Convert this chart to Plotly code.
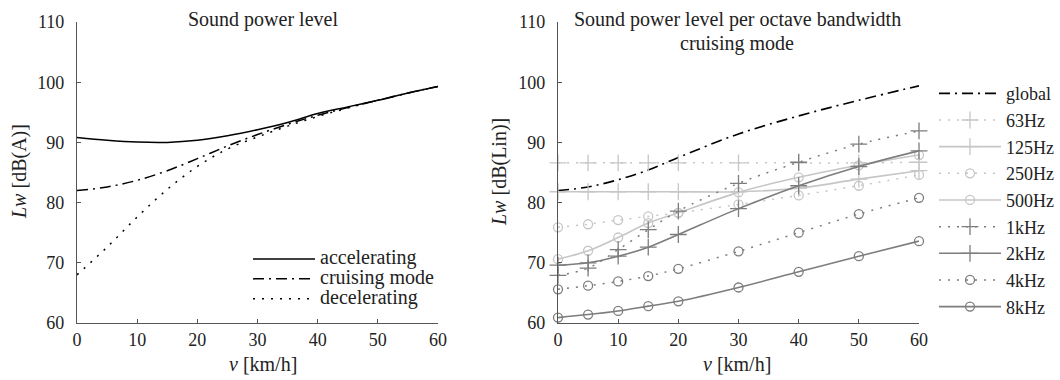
import plotly.graph_objects as go

# ---------------- data ----------------
speed_left = [0, 5, 10, 15, 20, 25, 30, 35, 40, 45, 50, 55, 60]
accelerating = [90.8, 90.35, 90.05, 90.0, 90.35, 91.1, 92.1, 93.3, 94.8, 95.9, 97.0, 98.2, 99.3]
cruising = [82.0, 82.6, 83.7, 85.3, 87.3, 89.4, 91.3, 93.0, 94.5, 95.8, 97.0, 98.2, 99.3]
decelerating = [68.0, 72.6, 77.6, 82.2, 86.0, 88.9, 90.9, 92.7, 94.3, 95.7, 97.0, 98.2, 99.3]

speed_right = [0, 5, 10, 15, 20, 30, 40, 50, 60]
global_level = [82.0, 82.6, 83.8, 85.4, 87.5, 91.4, 94.4, 97.0, 99.4]
hz63 = [86.6, 86.6, 86.6, 86.6, 86.6, 86.6, 86.6, 86.6, 86.7]
hz125 = [81.8, 81.8, 81.8, 81.8, 81.8, 81.8, 82.4, 83.9, 85.3]
hz250 = [75.9, 76.4, 77.1, 77.7, 78.3, 79.7, 81.2, 82.8, 84.6]
hz500 = [70.6, 72.0, 74.2, 76.6, 78.3, 81.7, 84.2, 86.2, 87.9]
khz1 = [67.9, 69.1, 72.2, 75.5, 78.6, 83.2, 86.7, 89.7, 91.9]
khz2 = [69.6, 70.0, 71.1, 72.6, 74.7, 79.0, 82.8, 86.0, 88.6]
khz4 = [65.6, 66.2, 66.9, 67.8, 69.0, 71.9, 75.0, 78.1, 80.8]
khz8 = [60.9, 61.4, 62.0, 62.8, 63.6, 65.9, 68.5, 71.1, 73.6]

x_ticks = [0, 10, 20, 30, 40, 50, 60]
y_ticks = [60, 70, 80, 90, 100, 110]

# ---------------- style ----------------
W, H = 1060, 380
FONT = "Liberation Serif"
TXT = "#222222"
AX = "#555555"
LIGHT = "#c6c6c6"
DARK = "#7d7d7d"
DASHDOT = "11px,5px,2px,5px"
DOT = "2px,7px"


def px(x):
    return x / W


def py(y):
    return 1 - y / H


def leg(t, size):
    return f'<span style="font-size:{size}px">{t}</span>'


fig = go.Figure()

# left chart
left_series = [
    ("accelerating", accelerating, "solid"),
    ("cruising mode", cruising, DASHDOT),
    ("decelerating", decelerating, DOT),
]
for name, ys, dash in left_series:
    fig.add_trace(go.Scatter(
        x=speed_left, y=ys, name=leg(name, 20), mode="lines",
        line=dict(color="black", width=1.5, dash=dash, shape="spline"),
        xaxis="x", yaxis="y", legend="legend",
    ))

# right chart
right_series = [
    ("global", global_level, "black", DASHDOT, None, 1.6),
    ("63Hz", hz63, LIGHT, DOT, "cross-thin-open", 1.5),
    ("125Hz", hz125, LIGHT, "solid", "cross-thin-open", 1.6),
    ("250Hz", hz250, LIGHT, DOT, "circle-open", 1.5),
    ("500Hz", hz500, LIGHT, "solid", "circle-open", 1.6),
    ("1kHz", khz1, DARK, DOT, "cross-thin-open", 1.5),
    ("2kHz", khz2, DARK, "solid", "cross-thin-open", 1.6),
    ("4kHz", khz4, DARK, DOT, "circle-open", 1.5),
    ("8kHz", khz8, DARK, "solid", "circle-open", 1.6),
]
for name, ys, col, dash, sym, lw in right_series:
    kw = dict(mode="lines")
    if sym:
        kw = dict(mode="lines+markers",
                  marker=dict(symbol=sym, size=12 if "cross" in sym else 9,
                              color=col, line=dict(color=col, width=1.3)))
    fig.add_trace(go.Scatter(
        x=speed_right, y=ys, name=leg(name, 18),
        line=dict(color=col, width=lw, dash=dash, shape="spline"),
        xaxis="x2", yaxis="y2", legend="legend2", cliponaxis=False, **kw,
    ))

axis_common = dict(
    showline=True, linecolor=AX, linewidth=1.3, ticks="inside", ticklen=4,
    tickcolor=AX, showgrid=False, zeroline=False, automargin=False,
    tickfont=dict(family=FONT, size=18, color=TXT),
)
xa = dict(axis_common, ticklabelstandoff=0)
ya = dict(axis_common, ticklabelstandoff=8)

fig.update_layout(
    width=W, height=H,
    margin=dict(l=0, r=0, t=0, b=0, autoexpand=False),
    paper_bgcolor="white", plot_bgcolor="white",
    font=dict(family=FONT, color=TXT),
    xaxis=dict(domain=[px(77), px(438)], range=[0, 60], tickvals=x_ticks,
               anchor="y", **xa),
    yaxis=dict(domain=[py(323), py(22)], range=[60, 110], tickvals=y_ticks,
               anchor="x", **ya),
    xaxis2=dict(domain=[px(558), px(919)], range=[0, 60], tickvals=x_ticks,
                anchor="y2", **xa),
    yaxis2=dict(domain=[py(323), py(22)], range=[60, 110], tickvals=y_ticks,
                anchor="x2", **ya),
    legend=dict(x=px(248), y=py(244), xanchor="left", yanchor="top",
                font=dict(family=FONT, size=13, color=TXT),
                bgcolor="rgba(0,0,0,0)", itemwidth=62, tracegroupgap=0),
    legend2=dict(x=px(934), y=py(75), xanchor="left", yanchor="top",
                 font=dict(family=FONT, size=18.2, color=TXT),
                 bgcolor="rgba(0,0,0,0)", itemwidth=62, tracegroupgap=0),
    showlegend=True,
)

annotations = [
    dict(text="Sound power level", x=px(263), y=py(20)),
    dict(text="Sound power level per octave bandwidth", x=px(737), y=py(20)),
    dict(text="cruising mode", x=px(737), y=py(43)),
    dict(text="<i>v</i> [km/h]", x=px(263), y=py(364)),
    dict(text="<i>v</i> [km/h]", x=px(737), y=py(364)),
    dict(text="<i>Lw</i> [dB(A)]", x=px(19), y=py(172), textangle=-90),
    dict(text="<i>Lw</i> [dB(Lin)]", x=px(499), y=py(172), textangle=-90),
]
for a in annotations:
    a.update(xref="paper", yref="paper", showarrow=False,
             xanchor="center", yanchor="middle",
             font=dict(family=FONT, size=20, color=TXT))
    fig.add_annotation(**a)

fig.write_html("out.html")
